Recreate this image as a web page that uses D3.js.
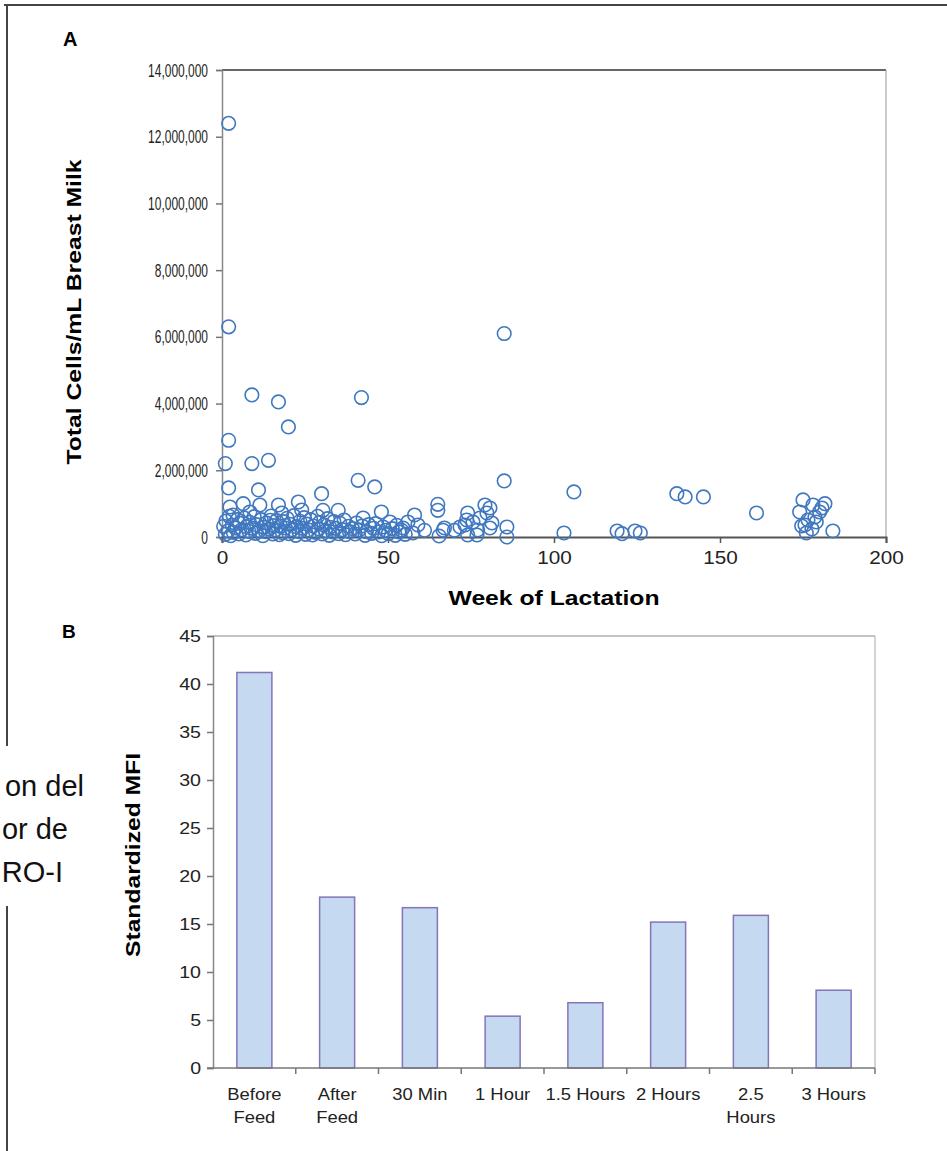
<!DOCTYPE html>
<html>
<head>
<meta charset="utf-8">
<script src="https://cdn.jsdelivr.net/npm/d3@7"></script>
<style>
  body { margin: 0; background: #fff; }
  svg { display: block; font-family: "Liberation Sans", Arial, sans-serif; }
  .tick-label { fill: #222; }
</style>
</head>
<body>
<div id="fig"></div>
<script>
// panel A: [week of lactation, total cells in millions per mL]
var scatterPoints = [
  [2,12.4],[2,6.3],[9,4.26],[17,4.05],[20,3.3],[42,4.18],[85,6.1],
  [2,2.9],[1,2.2],[9,2.2],[14,2.3],[2,1.47],[11,1.41],[30,1.3],[41,1.7],[46,1.5],[85,1.68],[106,1.35],
  [137,1.3],[139.5,1.2],[145,1.2],[161,0.72],
  [2.4,0.9],[6.4,1.0],[11.4,0.96],[17,0.96],[23,1.05],[24,0.81],[30.4,0.8],[35,0.8],[42.5,0.57],[48,0.75],
  [8.4,0.75],[18,0.72],[3.3,0.66],[14.5,0.5],
  [65,0.98],[65,0.8],[65.4,0.03],[66.6,0.2],[58,0.66],[74,0.72],[73.7,0.51],[79.2,0.96],[80.7,0.87],[79.8,0.72],
  [81.3,0.42],[71.7,0.3],[73.2,0.36],[77,0.21],[77.7,0.57],[75.6,0.45],[70,0.2],[80.7,0.27],[76.8,0.06],[74,0.06],
  [54.5,0.27],[57.5,0.12],[59,0.36],[61,0.2],[56,0.45],[67,0.27],
  [85.8,0.3],[85.8,0.0],[103,0.12],[119,0.18],[120.5,0.1],[124.4,0.18],[126,0.12],
  [175,1.11],[181.6,1.0],[180.7,0.87],[184,0.18],[174,0.75],[174.6,0.33],[176.5,0.51],[177.7,0.24],[179,0.45],
  [176,0.12],[178.6,0.6],[180,0.75],[175.6,0.36],[178,0.96],
  [0.5,0.32],[1,0.08],[1.2,0.48],[1.8,0.18],[2.2,0.62],[2.6,0.04],[3.1,0.36],[3.4,0.14],[4,0.27],[4.6,0.52],[5.1,0.09],[5.3,0.41],
  [6,0.22],[6.7,0.57],[7.2,0.06],[7.4,0.31],[8.1,0.17],[8.3,0.44],[9.2,0.26],[9.7,0.61],[10.1,0.11],[10.4,0.37],
  [11.2,0.19],[11.8,0.52],[12.3,0.04],[12.6,0.29],[13.1,0.16],[13.4,0.42],[14.2,0.24],[14.8,0.63],[15.3,0.09],[15.6,0.34],
  [16.1,0.21],[16.4,0.49],[17.3,0.07],[17.7,0.32],[18.2,0.13],[18.5,0.46],[19.1,0.27],[19.6,0.56],[20.2,0.1],[20.5,0.38],
  [21.1,0.22],[21.6,0.64],[22.2,0.05],[22.4,0.31],[23.2,0.16],[23.5,0.47],[24.3,0.26],[24.7,0.58],[25.2,0.08],[25.5,0.39],
  [26.1,0.21],[26.7,0.52],[27.3,0.06],[27.5,0.33],[28.2,0.14],[28.8,0.62],[29.1,0.24],[29.4,0.44],[30.2,0.09],[30.7,0.36],
  [31.2,0.19],[31.8,0.55],[32.3,0.05],[32.5,0.29],[33.3,0.15],[33.7,0.46],[34.2,0.26],[35.1,0.1],[35.5,0.41],
  [36.3,0.22],[36.8,0.51],[37.2,0.07],[38.1,0.32],[38.4,0.16],[39.3,0.25],[40.1,0.09],[40.5,0.42],
  [41.3,0.21],[42.2,0.33],[43.1,0.05],[43.5,0.16],[44.2,0.37],[45.1,0.11],[45.6,0.26],
  [46.3,0.4],[47.2,0.15],[48.1,0.04],[48.5,0.3],[49.2,0.2],[50.1,0.1],[50.6,0.45],[51.3,0.25],[52.2,0.05],
  [52.6,0.35],[53.3,0.15],[54.1,0.2],[55.2,0.08]
];
var weekTicks = [0, 50, 100, 150, 200];
var cellTicks = [0, 2000000, 4000000, 6000000, 8000000, 10000000, 12000000, 14000000];

// panel B
var timepoints = ["Before Feed", "After Feed", "30 Min", "1 Hour", "1.5 Hours", "2 Hours", "2.5 Hours", "3 Hours"];
var timepointLines = [["Before", "Feed"], ["After", "Feed"], ["30 Min"], ["1 Hour"], ["1.5 Hours"], ["2 Hours"], ["2.5", "Hours"], ["3 Hours"]];
var mfiValues = [41.2, 17.8, 16.7, 5.4, 6.8, 15.2, 15.9, 8.1];
var mfiTicks = [0, 5, 10, 15, 20, 25, 30, 35, 40, 45];

// cut-off text sitting behind the figure
var sideText = ["on del", "or de", "RO-I"];

var W = 947, H = 1151;
var svg = d3.select('#fig').append('svg')
  .attr('width', W)
  .attr('height', H);

// squash or stretch text along its baseline, the source image is distorted
function stretch(sel, factor) {
  sel.each(function() {
    var len = this.getComputedTextLength();
    d3.select(this)
      .attr('textLength', len * factor)
      .attr('lengthAdjust', 'spacingAndGlyphs');
  });
}

// frame lines of the page behind
svg.append('line').attr('x1', 4).attr('x2', W).attr('y1', 5).attr('y2', 5)
  .attr('stroke', '#444').attr('stroke-width', 2);
svg.append('line').attr('x1', 7).attr('x2', 7).attr('y1', 5).attr('y2', 746)
  .attr('stroke', '#444').attr('stroke-width', 2);
svg.append('line').attr('x1', 7).attr('x2', 7).attr('y1', 906).attr('y2', H)
  .attr('stroke', '#444').attr('stroke-width', 2);

svg.selectAll('.side-text')
  .data(sideText)
  .enter().append('text')
  .attr('class', 'side-text')
  .attr('x', function(d, i) { return [84, 68, 63][i]; })
  .attr('y', function(d, i) { return 796 + i * 43; })
  .attr('text-anchor', 'end')
  .style('font-size', '29px')
  .attr('fill', '#111')
  .text(function(d) { return d; });

// ---------- panel A: scatter ----------
var xA = d3.scaleLinear().domain([0, 200]).range([222, 886]);
var yA = d3.scaleLinear().domain([0, 14000000]).range([537, 70]);

svg.append('text').attr('x', 63).attr('y', 46)
  .style('font-size', '20px').style('font-weight', 'bold').text('A');

// plot frame: top and right edges
svg.append('line').attr('x1', xA(0)).attr('x2', xA(200)).attr('y1', yA(14000000)).attr('y2', yA(14000000))
  .attr('stroke', '#666').attr('stroke-width', 2);
svg.append('line').attr('x1', xA(200)).attr('x2', xA(200)).attr('y1', yA(14000000)).attr('y2', yA(0))
  .attr('stroke', '#999').attr('stroke-width', 1);

var yAxisA = svg.append('g')
  .attr('transform', 'translate(' + xA(0) + ',0)')
  .call(d3.axisLeft(yA).tickValues(cellTicks).tickFormat(d3.format(',')).tickSize(6).tickPadding(8));
yAxisA.select('.domain').attr('stroke', '#888').attr('stroke-width', 1.5);
yAxisA.selectAll('.tick line').attr('stroke', '#777').attr('stroke-width', 1.5);
yAxisA.selectAll('.tick text').attr('class', 'tick-label').style('font-size', '19px');
stretch(yAxisA.selectAll('.tick text'), 0.63);

var xAxisA = svg.append('g')
  .attr('transform', 'translate(0,' + yA(0) + ')')
  .call(d3.axisBottom(xA).tickValues(weekTicks).tickSize(6).tickPadding(8));
xAxisA.select('.domain').attr('stroke', '#555').attr('stroke-width', 2);
xAxisA.selectAll('.tick line').attr('stroke', '#555').attr('stroke-width', 1.5);
xAxisA.selectAll('.tick text').attr('class', 'tick-label').style('font-size', '18px');
stretch(xAxisA.selectAll('.tick text'), 1.15);

svg.selectAll('.pt')
  .data(scatterPoints)
  .enter().append('circle')
  .attr('class', 'pt')
  .attr('cx', function(d) { return xA(d[0]); })
  .attr('cy', function(d) { return yA(d[1] * 1e6); })
  .attr('r', 6.8)
  .attr('fill', 'none')
  .attr('stroke', '#4078c0')
  .attr('stroke-width', 1.6);

svg.append('text')
  .attr('transform', 'translate(81,312) rotate(-90)')
  .attr('text-anchor', 'middle')
  .attr('textLength', 305).attr('lengthAdjust', 'spacingAndGlyphs')
  .style('font-size', '21px').style('font-weight', 'bold')
  .text('Total Cells/mL Breast Milk');

svg.append('text')
  .attr('x', (xA(0) + xA(200)) / 2).attr('y', 605)
  .attr('text-anchor', 'middle')
  .attr('textLength', 211).attr('lengthAdjust', 'spacingAndGlyphs')
  .style('font-size', '21px').style('font-weight', 'bold')
  .text('Week of Lactation');

// ---------- panel B: bars ----------
var xB = d3.scaleBand().domain(timepoints).range([213, 875])
  .paddingInner(0.577).paddingOuter(0.2885);
var yB = d3.scaleLinear().domain([0, 45]).range([1068, 636]);
var step = xB.step();

svg.append('text').attr('x', 62).attr('y', 638)
  .style('font-size', '19px').style('font-weight', 'bold').text('B');

svg.append('line').attr('x1', 213).attr('x2', 875).attr('y1', yB(45)).attr('y2', yB(45))
  .attr('stroke', '#888').attr('stroke-width', 1.2);
svg.append('line').attr('x1', 875).attr('x2', 875).attr('y1', yB(45)).attr('y2', yB(0))
  .attr('stroke', '#aaa').attr('stroke-width', 1);

svg.selectAll('.bar')
  .data(mfiValues)
  .enter().append('rect')
  .attr('class', 'bar')
  .attr('x', function(d, i) { return xB(timepoints[i]); })
  .attr('width', xB.bandwidth())
  .attr('y', function(d) { return yB(d); })
  .attr('height', function(d) { return yB(0) - yB(d); })
  .attr('fill', '#c5d9f1')
  .attr('stroke', '#8474b8')
  .attr('stroke-width', 1.5);

var yAxisB = svg.append('g')
  .attr('transform', 'translate(213,0)')
  .call(d3.axisLeft(yB).tickValues(mfiTicks).tickSize(6).tickPadding(6));
yAxisB.select('.domain').attr('stroke', '#888').attr('stroke-width', 1.5);
yAxisB.selectAll('.tick line').attr('stroke', '#777').attr('stroke-width', 1.5);
yAxisB.selectAll('.tick text').attr('class', 'tick-label').style('font-size', '17px');
stretch(yAxisB.selectAll('.tick text'), 1.15);

svg.append('line').attr('x1', 207).attr('x2', 875).attr('y1', yB(0)).attr('y2', yB(0))
  .attr('stroke', '#777').attr('stroke-width', 1.5);

// category divider ticks
svg.selectAll('.cat-tick')
  .data(timepoints)
  .enter().append('line')
  .attr('class', 'cat-tick')
  .attr('x1', function(d) { return xB(d) + xB.bandwidth() + step * 0.577 / 2; })
  .attr('x2', function(d) { return xB(d) + xB.bandwidth() + step * 0.577 / 2; })
  .attr('y1', yB(0)).attr('y2', yB(0) + 6)
  .attr('stroke', '#777').attr('stroke-width', 1.5);

var catLabels = svg.selectAll('.cat-label')
  .data(timepoints)
  .enter().append('text')
  .attr('class', 'tick-label cat-label')
  .attr('text-anchor', 'middle')
  .style('font-size', '16px')
  .attr('transform', function(d) { return 'translate(' + (xB(d) + xB.bandwidth() / 2) + ',' + 1100 + ')'; });

catLabels.selectAll('tspan')
  .data(function(d, i) { return timepointLines[i]; })
  .enter().append('tspan')
  .attr('x', 0)
  .attr('dy', function(d, i) { return i === 0 ? 0 : 23; })
  .text(function(d) { return d; });
stretch(catLabels.selectAll('tspan'), 1.15);

svg.append('text')
  .attr('transform', 'translate(140,855) rotate(-90)')
  .attr('text-anchor', 'middle')
  .attr('textLength', 204).attr('lengthAdjust', 'spacingAndGlyphs')
  .style('font-size', '20px').style('font-weight', 'bold')
  .text('Standardized MFI');
</script>
</body>
</html>
